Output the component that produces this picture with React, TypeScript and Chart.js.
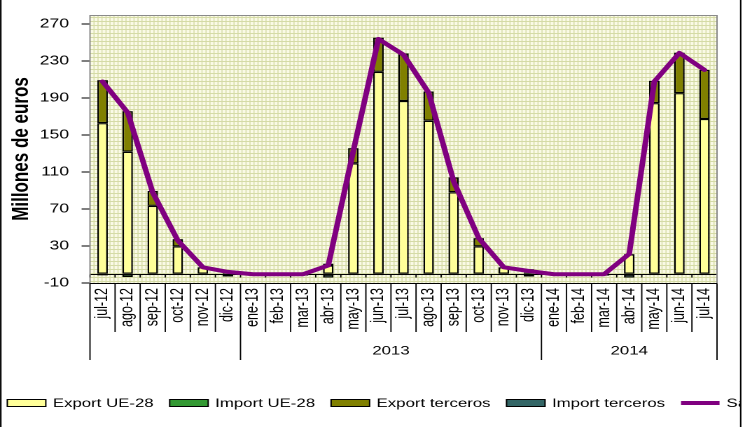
import React, { useEffect, useRef } from 'react';
import { Chart, registerables } from 'chart.js';

Chart.register(...registerables);

// ---- data ----
const categories = ['jul-12', 'ago-12', 'sep-12', 'oct-12', 'nov-12', 'dic-12', 'ene-13', 'feb-13', 'mar-13', 'abr-13', 'may-13', 'jun-13', 'jul-13', 'ago-13', 'sep-13', 'oct-13', 'nov-13', 'dic-13', 'ene-14', 'feb-14', 'mar-14', 'abr-14', 'may-14', 'jun-14', 'jul-14'];
const yearGroups = ['', '2013', '2014'];
const yearGroupSizes = [6, 12, 7];
const exportUE = [163, 132, 73.5, 29.6, 7, 1, 0.5, 0.3, 0.5, 9, 119.5, 218.5, 187, 165.6, 88.2, 29.6, 7, 1, 0.3, 0.3, 0.5, 21, 184.7, 195.5, 167.4];
const importUE = [-1.5, -3, -1, -1, -1, -0.5, -0.5, -0.3, -0.5, -1, -1, -1, -1, -1, -1, -1, -1, -0.5, -0.3, -0.3, -0.5, -1, -1, -1, -1];
const exportTerceros = [46.5, 44, 16.2, 7.9, 0.2, 2, 0, 0, 0, 2, 16.5, 37, 51.3, 31.6, 16.2, 8.9, 0.2, 4, 0, 0, 0, 0.5, 24.1, 43.8, 53.2];
const importTerceros = [-0.5, -0.5, -0.5, -0.5, -0.5, -2.5, -1.5, -0.5, -1.5, -3, -0.5, -0.5, -0.5, -0.5, -0.5, -0.5, -0.5, -2.5, -0.5, -0.5, -1.5, -3, -0.5, -0.5, -0.5];
const saldo = [208, 174.5, 88, 36, 7, 2, -0.5, -0.5, -0.5, 9, 133, 254, 237, 196, 100, 38.5, 7, 3, -0.5, -0.5, -0.5, 21.5, 208, 239, 220.6];
const yTicks = [-10, 30, 70, 110, 150, 190, 230, 270];
const seriesLabels = ['Export UE-28', 'Import UE-28', 'Export terceros', 'Import terceros', 'Saldo'];
const seriesColors = ['#FFFF99', '#339933', '#808000', '#336666', '#800080'];
const yTitle = 'Millones de euros';

// ---- geometry (internal canvas is stretched horizontally to the page width) ----
const W = 532;
const H = 427;
const SX = 745 / W;
const FONT = '"Liberation Sans", Arial, Helvetica, sans-serif';

const decor = {
  id: 'decor',
  beforeDraw(chart: any) {
    const { ctx, chartArea: a } = chart;
    ctx.save();
    ctx.fillStyle = '#ffffff';
    ctx.fillRect(0, 0, chart.width, chart.height);
    ctx.fillStyle = '#fafae6';
    ctx.fillRect(a.left, a.top, a.right - a.left, a.bottom - a.top);
    ctx.strokeStyle = '#d5dba6';
    ctx.lineWidth = 1;
    ctx.beginPath();
    for (let y = a.bottom - 2; y > a.top; y -= 4) {
      ctx.moveTo(a.left, y + 0.5);
      ctx.lineTo(a.right, y + 0.5);
    }
    ctx.stroke();
    ctx.lineWidth = 1 / SX;
    ctx.beginPath();
    for (let x = a.left + 4 / SX; x < a.right; x += 4 / SX) {
      ctx.moveTo(x, a.top);
      ctx.lineTo(x, a.bottom);
    }
    ctx.stroke();
    ctx.restore();
  },
  beforeDatasetsDraw(chart: any) {
    const { ctx, chartArea: a, scales } = chart;
    const y0 = Math.round(scales.y.getPixelForValue(0)) + 0.5;
    const n = categories.length;
    const cw = (a.right - a.left) / n;
    ctx.save();
    ctx.strokeStyle = '#000';
    ctx.lineWidth = 1;
    ctx.beginPath();
    ctx.moveTo(a.left, y0);
    ctx.lineTo(a.right, y0);
    ctx.stroke();
    ctx.lineWidth = 1.3 / SX;
    ctx.beginPath();
    for (let i = 0; i <= n; i++) {
      const x = a.left + i * cw;
      ctx.moveTo(x, y0);
      ctx.lineTo(x, y0 + 3);
    }
    ctx.stroke();
    ctx.restore();
  },
  afterDatasetsDraw(chart: any) {
    const { ctx, chartArea: a } = chart;
    ctx.save();
    ctx.strokeStyle = '#8a8a8a';
    ctx.lineWidth = 1;
    ctx.strokeRect(a.left, a.top + 0.5, a.right - a.left, a.bottom - a.top);
    ctx.restore();
  },
  afterDraw(chart: any) {
    const { ctx, chartArea: a, scales } = chart;
    const n = categories.length;
    const cw = (a.right - a.left) / n;
    const yb = a.bottom + 0.5;
    ctx.save();
    // category axis line at the bottom of the plot
    ctx.strokeStyle = '#000';
    ctx.lineWidth = 1;
    ctx.beginPath();
    ctx.moveTo(a.left, yb);
    ctx.lineTo(a.right, yb);
    ctx.stroke();
    // separators
    const groupEdges = new Set<number>([0]);
    let acc = 0;
    yearGroupSizes.forEach((s) => { acc += s; groupEdges.add(acc); });
    ctx.lineWidth = 1.3 / SX;
    ctx.beginPath();
    for (let i = 0; i <= n; i++) {
      const x = a.left + i * cw;
      ctx.moveTo(x, yb);
      ctx.lineTo(x, groupEdges.has(i) ? 360 : 332);
    }
    ctx.stroke();
    // month labels
    ctx.fillStyle = '#000';
    ctx.font = `12.5px ${FONT}`;
    categories.forEach((c, i) => {
      const x = scales.x.getPixelForValue(i);
      ctx.save();
      ctx.translate(x, 288);
      ctx.rotate(-Math.PI / 2);
      ctx.textAlign = 'right';
      ctx.textBaseline = 'middle';
      ctx.fillText(c, 0, 0);
      ctx.restore();
    });
    // year labels
    ctx.font = `12px ${FONT}`;
    ctx.textAlign = 'center';
    ctx.textBaseline = 'middle';
    let start = 0;
    yearGroups.forEach((g, gi) => {
      const end = start + yearGroupSizes[gi];
      const xc = a.left + ((start + end) / 2) * cw;
      if (g) ctx.fillText(g, xc, 351);
      start = end;
    });
    // legend (clipped by the outer frame)
    const frameRight = 740.7 / SX;
    ctx.save();
    ctx.beginPath();
    ctx.rect(0, 380, frameRight, 40);
    ctx.clip();
    ctx.textAlign = 'left';
    ctx.textBaseline = 'middle';
    const ly = 403;
    let lx = 7.3 / SX;
    const boxW = 38.5 / SX;
    seriesLabels.forEach((lab, i) => {
      if (i < 4) {
        ctx.fillStyle = seriesColors[i];
        ctx.fillRect(lx, ly - 3.5, boxW, 7);
        ctx.strokeStyle = '#000';
        ctx.lineWidth = 1;
        ctx.strokeRect(lx, ly - 3.5, boxW, 7);
      } else {
        ctx.strokeStyle = seriesColors[i];
        ctx.lineWidth = 4;
        ctx.beginPath();
        ctx.moveTo(lx, ly);
        ctx.lineTo(lx + boxW, ly);
        ctx.stroke();
      }
      lx += boxW + 7 / SX;
      ctx.fillStyle = '#000';
      ctx.fillText(lab, lx, ly + 0.5);
      lx += ctx.measureText(lab).width + 16 / SX;
    });
    ctx.restore();
    // outer frame
    ctx.strokeStyle = '#000';
    ctx.lineWidth = 1.5 / SX;
    ctx.beginPath();
    ctx.moveTo(0.8 / SX, 0);
    ctx.lineTo(0.8 / SX, H);
    ctx.moveTo(frameRight, 0);
    ctx.lineTo(frameRight, H);
    ctx.stroke();
    ctx.restore();
  },
};

export default function App() {
  const ref = useRef<HTMLCanvasElement>(null);
  useEffect(() => {
    const canvas = ref.current;
    if (!canvas) return;
    const barCommon = {
      type: 'bar' as const,
      borderColor: '#000000',
      borderWidth: 1.25,
      borderSkipped: false,
      stack: 'bars',
      order: 1,
      barPercentage: 0.42,
      categoryPercentage: 1,
    };
    const chart = new Chart(canvas, {
      type: 'bar',
      data: {
        labels: categories,
        datasets: [
          { ...barCommon, label: seriesLabels[0], data: exportUE, backgroundColor: seriesColors[0] },
          { ...barCommon, label: seriesLabels[1], data: importUE, backgroundColor: seriesColors[1] },
          { ...barCommon, label: seriesLabels[2], data: exportTerceros, backgroundColor: seriesColors[2] },
          { ...barCommon, label: seriesLabels[3], data: importTerceros, backgroundColor: seriesColors[3] },
          {
            type: 'line',
            label: seriesLabels[4],
            data: saldo,
            borderColor: seriesColors[4],
            backgroundColor: seriesColors[4],
            borderWidth: 4,
            pointRadius: 0,
            tension: 0,
            fill: false,
            stack: 'saldo',
            order: 0,
            borderJoinStyle: 'round',
            borderCapStyle: 'round',
          } as any,
        ],
      },
      options: {
        responsive: false,
        devicePixelRatio: 2,
        animation: false,
        events: [],
        layout: { padding: { left: 0, top: 15, right: W - 717 / SX, bottom: H - 283 } },
        plugins: { legend: { display: false }, tooltip: { enabled: false }, title: { display: false } },
        scales: {
          x: { type: 'category', display: false, offset: true, stacked: true },
          y: {
            type: 'linear',
            stacked: true,
            min: -10,
            max: 280,
            afterBuildTicks: (scale: any) => {
              scale.ticks = yTicks.map((v) => ({ value: v }));
            },
            afterFit: (scale: any) => {
              scale.width = 90 / SX;
              scale.paddingTop = 0;
              scale.paddingBottom = 0;
            },
            border: { display: false },
            grid: { drawOnChartArea: false, drawTicks: true, tickLength: 6, color: '#000', tickColor: '#000' },
            ticks: { color: '#000', font: { family: FONT, size: 12.5 }, padding: 9 },
            title: {
              display: true,
              text: yTitle,
              color: '#000',
              font: { family: FONT, size: 17, weight: 'bold' },
              padding: { top: 5, bottom: 0 },
            },
          },
        },
      },
      plugins: [decor],
    });
    return () => chart.destroy();
  }, []);
  return (
    <div style={{ position: 'fixed', left: 0, top: 0, width: 745, height: 427, background: '#fff', overflow: 'hidden' }}>
      <canvas ref={ref} width={W} height={H} style={{ width: '745px', height: '427px', display: 'block' }} />
    </div>
  );
}
